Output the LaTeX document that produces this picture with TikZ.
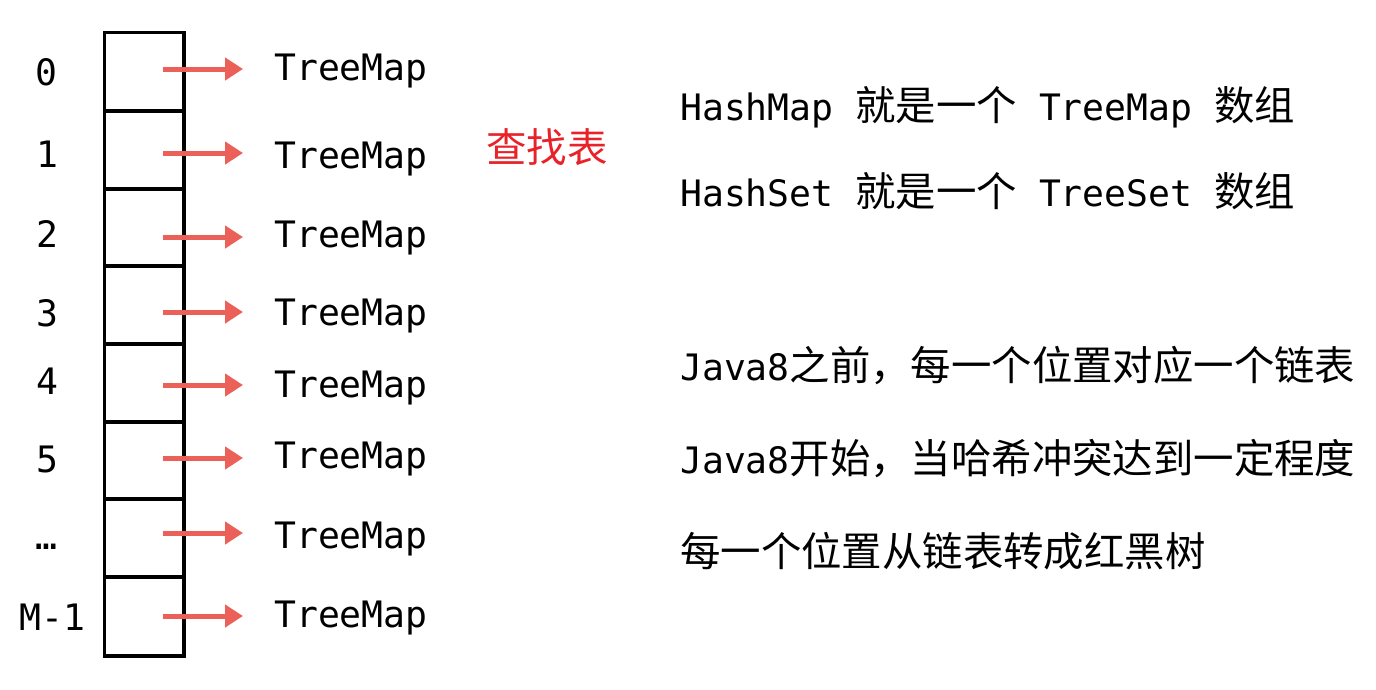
\documentclass[tikz,border=0pt]{standalone}
\usepackage{fontspec}
\usetikzlibrary{arrows.meta}
\newfontfamily\monofam{DejaVu Sans Mono}
\newfontfamily\cjkfam{Noto Sans CJK SC}
\definecolor{arrred}{RGB}{236,96,90}
\definecolor{titlered}{RGB}{232,34,40}
\newcommand\mytt{\fontsize{36.4}{40}\selectfont\monofam}
\newcommand\mycjk{\fontsize{40.4}{44}\selectfont\cjkfam}
\begin{document}
\begin{tikzpicture}[x=1pt,y=-1pt,
  cellbox/.style={draw,line width=3.2pt,minimum width=79.5pt,inner sep=0pt},
  arr/.style={draw=arrred,line width=5pt,-{Triangle[length=18pt,width=22pt]}},
  tm/.style={anchor=base west,inner sep=0pt,font=\mytt},
  idx/.style={anchor=base,inner sep=0pt,font=\mytt},
  txt/.style={anchor=base west,inner sep=0pt}]
\useasboundingbox (0,0) rectangle (1376,689);
% array cells
\node[cellbox,minimum height=78.5pt] (c0) at (144.25,71.75) {};
\node[cellbox,minimum height=78pt]   (c1) at (144.25,150) {};
\node[cellbox,minimum height=77pt]   (c2) at (144.25,227.5) {};
\node[cellbox,minimum height=78pt]   (c3) at (144.25,305) {};
\node[cellbox,minimum height=78pt]   (c4) at (144.25,383) {};
\node[cellbox,minimum height=77pt]   (c5) at (144.25,460.5) {};
\node[cellbox,minimum height=78pt]   (c6) at (144.25,538) {};
\node[cellbox,minimum height=79pt]   (c7) at (144.25,616.5) {};
% index labels
\node[idx] (l0) at (46.7,85) {0};
\node[idx] (l1) at (47,167.7) {1};
\node[idx] (l2) at (47,247) {2};
\node[idx] (l3) at (47,326.7) {3};
\node[idx] (l4) at (47,394) {4};
\node[idx] (l5) at (47,472) {5};
\node[idx] (l6) at (46.7,549) {…};
\node[idx] (l7) at (52.5,630) {M-1};
% TreeMap labels
\node[tm] (t0) at (274,80) {TreeMap};
\node[tm] (t1) at (274,168) {TreeMap};
\node[tm] (t2) at (274,247) {TreeMap};
\node[tm] (t3) at (274,325) {TreeMap};
\node[tm] (t4) at (274,397) {TreeMap};
\node[tm] (t5) at (274,468) {TreeMap};
\node[tm] (t6) at (274,548) {TreeMap};
\node[tm] (t7) at (274,627) {TreeMap};
% arrows
\foreach \i/\y in {0/69,1/153,2/237,3/312,4/385,5/458,6/533,7/616}{
  \coordinate (a\i) at (163,\y);
  \coordinate (b\i) at (243,\y);
  \draw[arr] (a\i) -- (b\i);
}
% title
\node[anchor=base,inner sep=0pt,font=\mycjk,text=titlered] (title) at (547,162) {查找表};
% right text
\node[txt] (r1) at (680,120.7) {{\mytt HashMap }{\mycjk 就是一个}{\mytt\ TreeMap }{\mycjk 数组}};
\node[txt] (r2) at (680,206.7) {{\mytt HashSet }{\mycjk 就是一个}{\mytt\ TreeSet }{\mycjk 数组}};
\node[txt] (r3) at (680,380) {{\mytt Java8}{\mycjk 之前，每一个位置对应一个链表}};
\node[txt] (r4) at (680,473.3) {{\mytt Java8}{\mycjk 开始，当哈希冲突达到一定程度}};
\node[txt] (r5) at (680,566) {{\mycjk 每一个位置从链表转成红黑树}};
\end{tikzpicture}
\end{document}
